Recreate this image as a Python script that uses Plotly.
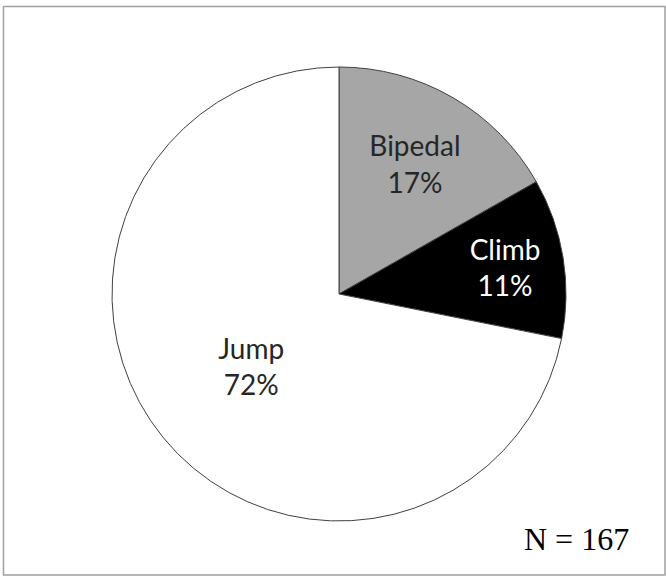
import plotly.graph_objects as go

labels = ["Bipedal", "Climb", "Jump"]
counts = [28, 19, 120]
colors = ["#a6a6a6", "#000000", "#ffffff"]
text_colors = ["#262626", "#ffffff", "#262626"]
n_label = "N = 167"

W, H = 666, 576

fig = go.Figure(go.Pie(
    labels=labels,
    values=counts,
    sort=False,
    direction="clockwise",
    rotation=0,
    marker=dict(colors=colors, line=dict(color="#404040", width=1)),
    texttemplate="%{label}<br>%{percent:.0%}",
    textposition="inside",
    insidetextorientation="horizontal",
    insidetextfont=dict(family="Lato", size=28, color=text_colors),
    hoverinfo="label+percent",
    showlegend=False,
    domain=dict(x=[112/W, 566/W], y=[55/H, 509/H]),
))

fig.add_annotation(
    x=576/W, y=(H-539)/H, xref="paper", yref="paper",
    text=n_label, showarrow=False,
    font=dict(family="Liberation Serif", size=32, color="#000000"),
    xanchor="center", yanchor="middle",
)

fig.add_shape(type="rect", xref="paper", yref="paper",
              x0=3.5/W, x1=665/W, y0=1/H, y1=(H-6.5)/H,
              line=dict(color="#a0a0a0", width=1.5))

fig.update_layout(
    width=W, height=H,
    margin=dict(l=0, r=0, t=0, b=0),
    paper_bgcolor="white", plot_bgcolor="white",
)

fig.write_html("out.html", config={"displayModeBar": False},
               post_script="document.body.style.margin='0';document.body.style.padding='0';")
